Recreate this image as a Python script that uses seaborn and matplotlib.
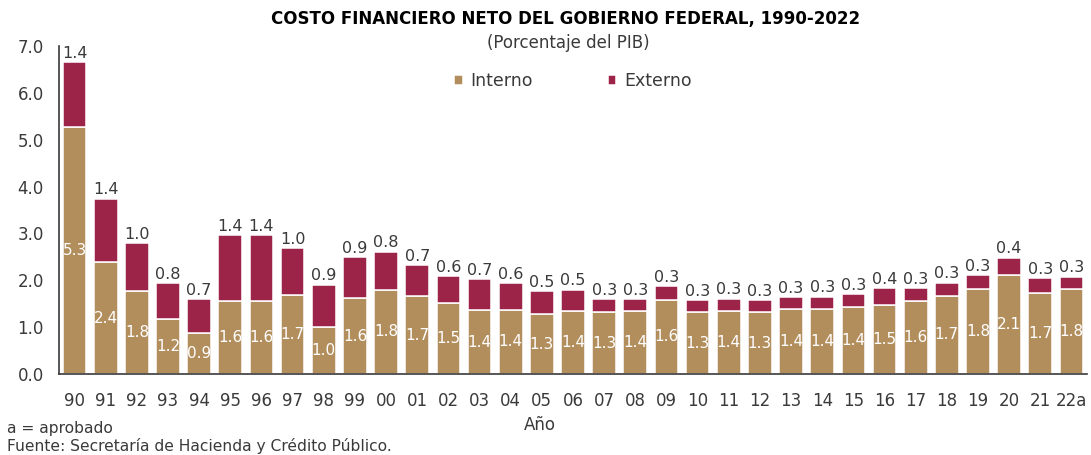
import matplotlib
matplotlib.use("Agg")
import matplotlib.pyplot as plt
import seaborn as sns
import pandas as pd
import numpy as np

years = ["90", "91", "92", "93", "94", "95", "96", "97", "98", "99",
         "00", "01", "02", "03", "04", "05", "06", "07", "08", "09",
         "10", "11", "12", "13", "14", "15", "16", "17", "18", "19",
         "20", "21", "22a"]
interno = [5.28, 2.38, 1.78, 1.17, 0.87, 1.55, 1.55, 1.68, 1.01, 1.62,
           1.80, 1.66, 1.52, 1.36, 1.37, 1.28, 1.351, 1.32, 1.351, 1.58,
           1.32, 1.351, 1.32, 1.38, 1.39, 1.42, 1.47, 1.55, 1.67, 1.81,
           2.12, 1.73, 1.81]
externo = [1.38, 1.36, 1.01, 0.77, 0.73, 1.41, 1.41, 1.00, 0.90, 0.87,
           0.81, 0.66, 0.57, 0.66, 0.57, 0.49, 0.451, 0.28, 0.251, 0.29,
           0.26, 0.26, 0.26, 0.26, 0.26, 0.28, 0.36, 0.28, 0.28, 0.30,
           0.36, 0.31, 0.27]
yticks = [0.0, 1.0, 2.0, 3.0, 4.0, 5.0, 6.0, 7.0]

title = "COSTO FINANCIERO NETO DEL GOBIERNO FEDERAL, 1990-2022"
subtitle = "(Porcentaje del PIB)"

C_INT = "#B38E5D"
C_EXT = "#9D2449"
TXT = "#3a3a3a"

sns.set_theme(style="white")
plt.rcParams["font.family"] = ["DejaVu Sans"]

df = pd.DataFrame({"year": years, "Interno": interno, "Externo": externo})

fig = plt.figure(figsize=(10.91, 4.55), dpi=100)
ax = fig.add_axes([59 / 1091, 1 - 374 / 455, (1087 - 59) / 1091, (374 - 46) / 455])

sns.barplot(data=df, x="year", y="Interno", order=years, color=C_INT,
            width=0.76, edgecolor="white", linewidth=1.1, ax=ax,
            label="Interno", saturation=1)
sns.barplot(data=df, x="year", y="Externo", order=years, color=C_EXT,
            width=0.76, edgecolor="white", linewidth=1.1, ax=ax,
            bottom=df["Interno"].values, label="Externo", saturation=1)

c_int, c_ext = ax.containers[0], ax.containers[1]
ax.bar_label(c_int, labels=[f"{v:.1f}" for v in interno], label_type="center",
             color="white", fontsize=11)
ax.bar_label(c_ext, labels=[f"{v:.1f}" for v in externo], label_type="edge",
             color=TXT, fontsize=11.5, padding=1)

ax.set_ylim(0, 7)
ax.set_xlim(-0.5, len(years) - 0.5)
ax.set_yticks(yticks)
ax.set_yticklabels([f"{t:.1f}" for t in yticks], fontsize=12, color=TXT)
ax.set_xticks(range(len(years)))
ax.set_xticklabels(years, fontsize=12, color=TXT)
ax.set_xticks(np.arange(-0.5, len(years)), minor=True)
ax.tick_params(axis="x", which="major", length=0, pad=13)
ax.tick_params(axis="x", which="minor", length=5, width=1, color=TXT, direction="out")
ax.tick_params(axis="y", which="major", length=5, width=1, color=TXT, direction="out", pad=6)
ax.set_xlabel("")
ax.set_ylabel("")

for s in ["top", "right"]:
    ax.spines[s].set_visible(False)
for s in ["left", "bottom"]:
    ax.spines[s].set_color(TXT)
    ax.spines[s].set_linewidth(1.2)

ax.legend(loc="center", bbox_to_anchor=(573 / 1091, 1 - 81 / 455),
          bbox_transform=fig.transFigure, ncol=2, frameon=False,
          fontsize=12.5, handlelength=0.5, handleheight=0.5, handletextpad=0.45,
          columnspacing=4.3, labelcolor=TXT)

fig.text(566 / 1091, 1 - 19 / 455, title, ha="center", va="center",
         fontsize=12, fontweight="bold", color="black")
fig.text(568 / 1091, 1 - 43 / 455, subtitle, ha="center", va="center",
         fontsize=12, color=TXT)
fig.text(540 / 1091, 1 - 425 / 455, "Año", ha="center", va="center",
         fontsize=12, color=TXT)
fig.text(7 / 1091, 1 - 428 / 455, "a = aprobado", ha="left", va="center",
         fontsize=11.2, color=TXT)
fig.text(7 / 1091, 1 - 446 / 455, "Fuente: Secretaría de Hacienda y Crédito Público.",
         ha="left", va="center", fontsize=11.2, color=TXT)

fig.savefig("out.png", dpi=100)
